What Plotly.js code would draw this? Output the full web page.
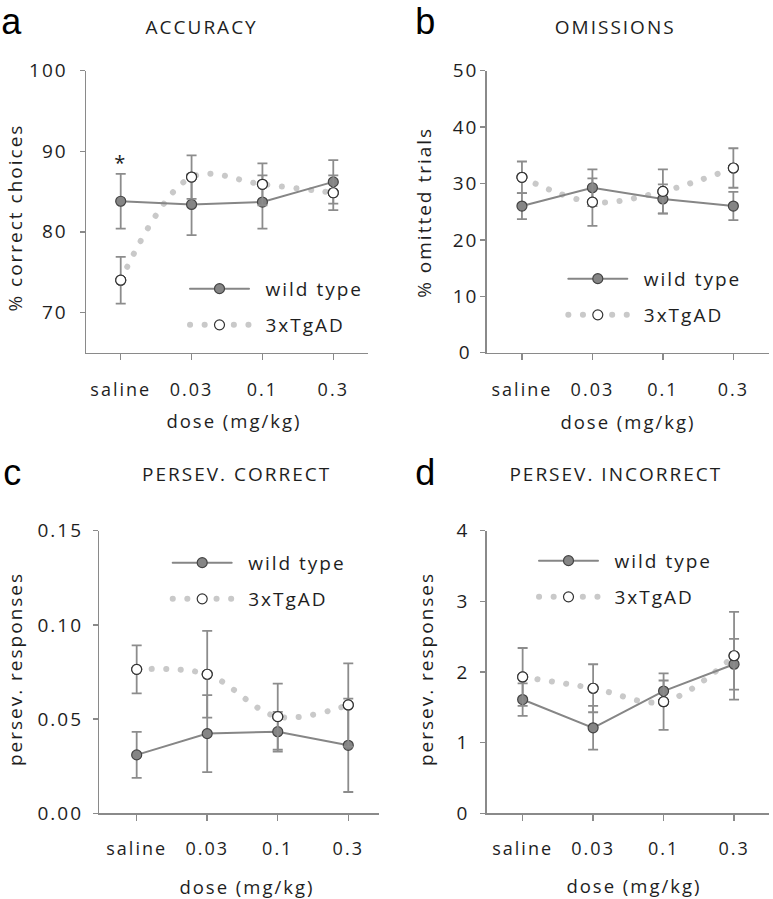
<!DOCTYPE html>
<html>
<head>
<meta charset="utf-8">
<script src="https://cdn.plot.ly/plotly-3.0.1.min.js"></script>
<style>
body { margin: 0; background: #fff; }
.main-svg text { letter-spacing: 2px; }
.legendtext { letter-spacing: 2px; }
.annotation-text { letter-spacing: 2.4px; }
.js-line { stroke-linecap: round; }
</style>
</head>
<body>
<div id="chart" style="width:773px;height:899px;"></div>
<script>
// ---- data ----
const doses = ['saline', '0.03', '0.1', '0.3'];
const seriesNames = ['wild type', '3xTgAD'];

// a: accuracy (% correct choices)
const accWT = [83.8, 83.4, 83.7, 86.2];
const accWTerr = [3.4, 3.8, 3.3, 2.7];
const accTg = [74.0, 86.8, 85.9, 84.85];
const accTgErr = [2.9, 2.7, 2.6, 2.15];
// b: omissions (% omitted trials)
const omWT = [26.0, 29.25, 27.25, 26.0];
const omWTerr = [2.3, 3.25, 2.6, 2.5];
const omTg = [31.1, 26.7, 28.6, 32.75];
const omTgErr = [2.8, 4.2, 3.9, 3.5];
// c: persev. correct
const pcWT = [0.031, 0.0423, 0.0433, 0.0361];
const pcWTerr = [0.0122, 0.0204, 0.0105, 0.0248];
const pcTg = [0.0764, 0.0738, 0.0513, 0.0575];
const pcTgErr = [0.0127, 0.023, 0.0175, 0.0221];
// d: persev. incorrect
const piWT = [1.61, 1.21, 1.73, 2.11];
const piWTerr = [0.23, 0.31, 0.15, 0.36];
const piTg = [1.93, 1.77, 1.58, 2.23];
const piTgErr = [0.41, 0.34, 0.40, 0.62];

const panelTitles = ['ACCURACY', 'OMISSIONS', 'PERSEV. CORRECT', 'PERSEV. INCORRECT'];
const panelLetters = ['a', 'b', 'c', 'd'];
const yTitles = ['% correct choices', '% omitted trials', 'persev. responses', 'persev. responses'];
const xTitle = 'dose (mg/kg)';
const yTickVals = [[70, 80, 90, 100], [0, 10, 20, 30, 40, 50], [0, 0.05, 0.10, 0.15], [0, 1, 2, 3, 4]];
const yTickText = [['70', '80', '90', '100'], ['0\u2005', '10', '20', '30', '40', '50'], ['0.00', '0.05', '0.10', '0.15'], ['0', '1', '2', '3', '4']];
const yRanges = [[65, 100], [0, 50], [0, 0.15], [0, 4]];

// ---- styling / layout ----
const W = 773, H = 899;
const px = v => v / W;
const py = v => 1 - v / H;
const FONT = 'Open Sans, sans-serif';
const TXT = '#1e1e1e';
const AX = '#8a8a8a';
const LEG_PAD = '\u2002';

const panels = [
  {wt: accWT, wte: accWTerr, tg: accTg, tge: accTgErr},
  {wt: omWT, wte: omWTerr, tg: omTg, tge: omTgErr},
  {wt: pcWT, wte: pcWTerr, tg: pcTg, tge: pcTgErr},
  {wt: piWT, wte: piWTerr, tg: piTg, tge: piTgErr}
];
const geo = [
  {x0: 86, x1: 368, y0: 70.7, y1: 352.7, xr: [-0.49, 3.49], ystand: 8, xstand: 14,
   leg: [185, 269.8], title: [201.7, 27], ytitle: [15, 218], xtitle: [234, 420.5], letter: [12, 0]},
  {x0: 486.7, x1: 769.3, y0: 70.7, y1: 352.7, xr: [-0.5, 3.51], ystand: -2, xstand: 14,
   leg: [563.3, 259.8], title: [615, 27], ytitle: [424, 213], xtitle: [628, 422], letter: [425.5, 0]},
  {x0: 99.3, x1: 379.3, y0: 530.7, y1: 813.3, xr: [-0.53, 3.44], ystand: 6, xstand: 13,
   leg: [167.7, 543.8], title: [237, 474], ytitle: [14.5, 669], xtitle: [247, 886.5], letter: [12.5, 450.7]},
  {x0: 486.7, x1: 769.3, y0: 530.7, y1: 813.3, xr: [-0.51, 3.5], ystand: 7, xstand: 13,
   leg: [534, 541.8], title: [616, 474], ytitle: [425.5, 669], xtitle: [634, 885.5], letter: [425.5, 450.7]}
];

const traces = [];
const layout = {
  width: W, height: H,
  margin: {l: 0, r: 0, t: 0, b: 0},
  paper_bgcolor: '#ffffff', plot_bgcolor: '#ffffff',
  font: {family: FONT, color: TXT, size: 18},
  showlegend: true,
  annotations: []
};

panels.forEach((p, i) => {
  const n = i === 0 ? '' : String(i + 1);
  const xa = 'x' + n, ya = 'y' + n;
  const legName = 'legend' + n;
  const g = geo[i];
  const errStyle = {type: 'data', visible: true, color: '#8c8c8c', thickness: 1.8, width: 5};

  // 3xTgAD dotted smooth line (legend entry)
  traces.push({
    type: 'scatter', mode: 'lines+markers', name: LEG_PAD + seriesNames[1],
    x: doses, y: p.tg, xaxis: xa, yaxis: ya, legend: legName,
    legendgroup: 'tg' + i, legendrank: 2,
    line: {color: '#c9c9c9', width: 6, dash: '0.1px,14.5px', shape: 'spline', smoothing: 1},
    marker: {size: 10, color: '#ffffff', line: {color: '#333333', width: 1.2}},
    hoverinfo: 'skip'
  });
  // wild type
  traces.push({
    type: 'scatter', mode: 'lines+markers', name: LEG_PAD + seriesNames[0],
    x: doses, y: p.wt, xaxis: xa, yaxis: ya, legend: legName,
    legendgroup: 'wt' + i, legendrank: 1,
    error_y: Object.assign({array: p.wte}, errStyle),
    line: {color: '#868686', width: 2},
    marker: {size: 10, color: '#858585', line: {color: '#444444', width: 1.2}},
    hoverinfo: 'skip'
  });
  // 3xTgAD markers + error bars on top
  traces.push({
    type: 'scatter', mode: 'markers', name: seriesNames[1], showlegend: false,
    x: doses, y: p.tg, xaxis: xa, yaxis: ya, legend: legName,
    legendgroup: 'tg' + i,
    error_y: Object.assign({array: p.tge}, errStyle),
    marker: {size: 10, color: '#ffffff', line: {color: '#333333', width: 1.2}},
    hoverinfo: 'skip'
  });

  layout['xaxis' + n] = {
    domain: [px(g.x0), px(g.x1)], anchor: ya, type: 'category',
    range: g.xr, showgrid: false, zeroline: false,
    showline: true, linecolor: AX, linewidth: 1.5,
    ticks: 'outside', ticklen: 6, tickwidth: 1.5, tickcolor: AX,
    ticklabelstandoff: g.xstand,
    tickfont: {family: FONT, size: 18, color: TXT}
  };
  layout['yaxis' + n] = {
    domain: [py(g.y1), py(g.y0)], anchor: xa,
    range: yRanges[i], showgrid: false, zeroline: false,
    showline: true, linecolor: AX, linewidth: 1.5,
    ticks: 'outside', ticklen: 5, tickwidth: 1.5, tickcolor: AX,
    tickmode: 'array', tickvals: yTickVals[i], ticktext: yTickText[i],
    ticklabelstandoff: g.ystand,
    tickfont: {family: FONT, size: 19, color: TXT}
  };
  layout[legName] = {
    x: px(g.leg[0]), y: py(g.leg[1]), xanchor: 'left', yanchor: 'top',
    xref: 'paper', yref: 'paper',
    bgcolor: 'rgba(0,0,0,0)', borderwidth: 0,
    font: {family: FONT, size: 19, color: TXT},
    itemwidth: 59, tracegroupgap: 8.5, traceorder: 'grouped'
  };

  const ann = layout.annotations;
  ann.push({xref: 'paper', yref: 'paper', x: px(g.title[0]), y: py(g.title[1]),
    xanchor: 'center', yanchor: 'middle', showarrow: false, text: panelTitles[i],
    font: {family: FONT, size: 19, color: TXT}});
  ann.push({xref: 'paper', yref: 'paper', x: px(g.letter[0]), y: py(g.letter[1]),
    xanchor: 'center', yanchor: 'top', showarrow: false, text: panelLetters[i], borderpad: 0,
    font: {family: 'Liberation Sans, Arial, sans-serif', size: 36, color: '#000000'}});
  ann.push({xref: 'paper', yref: 'paper', x: px(g.ytitle[0]), y: py(g.ytitle[1]),
    xanchor: 'center', yanchor: 'middle', showarrow: false, textangle: -90, text: yTitles[i],
    font: {family: FONT, size: 19, color: TXT}});
  ann.push({xref: 'paper', yref: 'paper', x: px(g.xtitle[0]), y: py(g.xtitle[1]),
    xanchor: 'center', yanchor: 'middle', showarrow: false, text: xTitle,
    font: {family: FONT, size: 18.5, color: TXT}});
});

// significance marker (panel a, saline)
layout.annotations.push({xref: 'x', yref: 'y', x: 'saline', y: 88.6, showarrow: false,
  text: '*', xanchor: 'center', yanchor: 'middle',
  font: {family: FONT, size: 20, color: TXT}});

Plotly.newPlot('chart', traces, layout, {staticPlot: true, displayModeBar: false});
</script>
</body>
</html>
